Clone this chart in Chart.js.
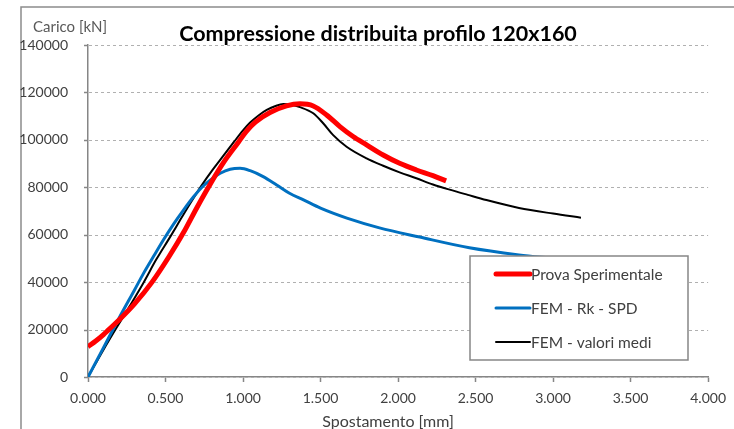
<!DOCTYPE html>
<html>
<head>
<meta charset="utf-8">
<script src="https://cdn.jsdelivr.net/npm/chart.js@4"></script>
<style>
  body { margin:0; background:#fff; }
  #wrap { width:734px; height:429px; position:relative; }
</style>
</head>
<body>
<div id="wrap"><canvas id="dia1" width="734" height="429"></canvas></div>
<script>
// dati
const titolo = "Compressione distribuita profilo 120x160";
const nomi = ["Prova Sperimentale", "FEM - Rk - SPD", "FEM - valori medi"];
const colori = ["#ff0000", "#0070c0", "#000000"];

const provaX = [0, 0.05, 0.1, 0.134, 0.2, 0.3, 0.413, 0.52, 0.617, 0.703, 0.79, 0.88, 0.97, 1.02, 1.08, 1.174, 1.28, 1.367, 1.453, 1.539, 1.625, 1.71, 1.797, 1.904, 2.01, 2.118, 2.225, 2.31];
const provaY = [12800, 15200, 17900, 20000, 24000, 30800, 40000, 50500, 61000, 71500, 81500, 91000, 99000, 103500, 107500, 111500, 114300, 115200, 114300, 110500, 105600, 101400, 97900, 93600, 90100, 87300, 84900, 82700];

const rkX = [0, 0.1, 0.2, 0.3, 0.359, 0.424, 0.488, 0.552, 0.617, 0.681, 0.735, 0.788, 0.853, 0.917, 0.981, 1.046, 1.13, 1.217, 1.3, 1.39, 1.5, 1.67, 1.88, 2.14, 2.46, 2.78, 3.0];
const rkY = [0, 12400, 24800, 36700, 43800, 51000, 58000, 64500, 70500, 76000, 80000, 83000, 85900, 87600, 88000, 87000, 84500, 81000, 77500, 74700, 71200, 67000, 62900, 59000, 54500, 51500, 50000];

const mediX = [0, 0.1, 0.177, 0.27, 0.36, 0.44, 0.531, 0.6, 0.66, 0.73, 0.8, 0.87, 0.94, 1.0, 1.046, 1.1, 1.153, 1.21, 1.26, 1.31, 1.367, 1.453, 1.517, 1.58, 1.668, 1.797, 1.904, 2.01, 2.118, 2.225, 2.333, 2.45, 2.57, 2.78, 3.0, 3.18];
const mediY = [0, 11500, 20000, 30000, 40000, 49500, 59200, 66800, 73300, 80500, 87000, 93000, 99000, 104000, 107300, 110300, 112600, 114300, 115100, 114800, 113800, 111200, 107000, 102100, 97100, 92200, 89100, 86300, 83800, 81200, 79000, 76800, 74600, 71300, 68900, 67200];

const xTicks = [0, 0.5, 1, 1.5, 2, 2.5, 3, 3.5, 4];
const yTicks = [0, 20000, 40000, 60000, 80000, 100000, 120000, 140000];

function punti(xs, ys){
  return xs.map((x,i) => ({x:x, y:ys[i]}));
}

const grigio = "#868686";
const testo = "#404040";
const font = "Lato";

// griglia tratteggiata orizzontale
const griglia = {
  id: "griglia",
  beforeDatasetsDraw(chart){
    const c = chart.ctx;
    const a = chart.chartArea;
    const sy = chart.scales.y;
    c.save();
    yTicks.forEach(v => {
      const y = Math.round(sy.getPixelForValue(v)) + 0.5;
      c.strokeStyle = "#b0b0b0";
      c.lineWidth = 1;
      c.setLineDash([3, 3]);
      c.beginPath();
      c.moveTo(a.left + 1, y);
      c.lineTo(a.right, y);
      c.stroke();
      c.setLineDash([]);
      c.strokeStyle = grigio;
      c.lineWidth = 1.5;
      c.beginPath();
      c.moveTo(a.left - 4, y);
      c.lineTo(a.left, y);
      c.stroke();
    });
    c.restore();
  }
};

// cornice + titolo + legenda
const extra = {
  id: "extra",
  beforeDraw(chart){
    const c = chart.ctx;
    c.save();
    c.strokeStyle = "#8c8c8c";
    c.lineWidth = 1.5;
    c.beginPath();
    c.moveTo(21, 429);
    c.lineTo(21, 7);
    c.lineTo(734, 7);
    c.stroke();
    c.restore();
  },
  afterDraw(chart){
    const c = chart.ctx;
    c.save();
    c.fillStyle = "#000";
    c.font = "bold 21.5px " + font;
    c.textAlign = "center";
    c.textBaseline = "middle";
    c.fillText(titolo, 378, 34);
    c.fillStyle = testo;
    c.font = "16px " + font;
    c.fillText("Spostamento [mm]", 388, 422);
    c.fillStyle = "#595959";
    c.font = "15px " + font;
    c.textAlign = "left";
    c.fillText("Carico [kN]", 33, 27);

    // legenda
    const lx = 470, ly = 256, lw = 218, lh = 104;
    c.fillStyle = "#fff";
    c.fillRect(lx, ly, lw, lh);
    c.strokeStyle = grigio;
    c.lineWidth = 1.5;
    c.strokeRect(lx, ly, lw, lh);
    const larg = [5, 3, 2];
    c.font = "15.5px " + font;
    nomi.forEach((n,i) => {
      const y = ly + 18 + i*34;
      c.strokeStyle = colori[i];
      c.lineWidth = larg[i];
      c.lineCap = "round";
      c.beginPath();
      c.moveTo(496, y);
      c.lineTo(530, y);
      c.stroke();
      c.fillStyle = testo;
      c.fillText(n, 531, y + 1);
    });
    c.restore();
  }
};

new Chart(document.getElementById("dia1"), {
  type: "scatter",
  data: {
    datasets: [
      { label: nomi[0], data: punti(provaX, provaY), borderColor: colori[0], borderWidth: 5 },
      { label: nomi[1], data: punti(rkX, rkY), borderColor: colori[1], borderWidth: 3 },
      { label: nomi[2], data: punti(mediX, mediY), borderColor: colori[2], borderWidth: 2 }
    ].map(d => Object.assign(d, { showLine: true, pointRadius: 0, fill: false, cubicInterpolationMode: "monotone" }))
  },
  options: {
    responsive: false,
    animation: false,
    layout: { padding: { left: 0, right: 25, top: 45, bottom: 0 } },
    plugins: { legend: { display: false }, tooltip: { enabled: false }, title: { display: false } },
    scales: {
      x: {
        type: "linear", min: 0, max: 4,
        afterBuildTicks: s => { s.ticks = xTicks.map(v => ({value:v})); },
        ticks: { callback: v => v.toFixed(3), color: testo, font: { family: font, size: 14 }, padding: 8, maxRotation: 0 },
        grid: { drawOnChartArea: false, drawTicks: true, tickLength: 5, tickColor: grigio, tickWidth: 1.5 },
        border: { color: grigio, width: 1.5 },
        afterFit: s => { s.height = 52; }
      },
      y: {
        min: 0, max: 140000,
        afterBuildTicks: s => { s.ticks = yTicks.map(v => ({value:v})); },
        ticks: { callback: v => String(v), color: testo, font: { family: font, size: 14 }, padding: 12 },
        grid: { display: false },
        border: { display: true, color: grigio, width: 1.5 },
        afterFit: s => { s.width = 88; }
      }
    }
  },
  plugins: [griglia, extra]
});
</script>
</body>
</html>
